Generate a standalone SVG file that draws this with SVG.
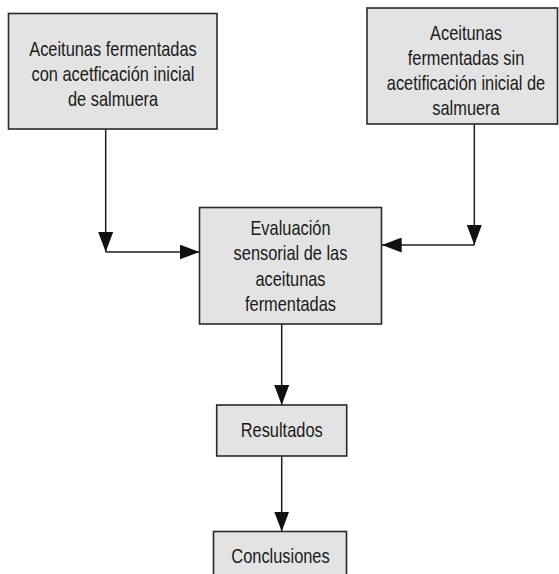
<svg xmlns="http://www.w3.org/2000/svg" width="559" height="574" viewBox="0 0 559 574">
<style>
.box{fill:#e3e3e3;stroke:#2a2a2a;stroke-width:1.6}
.lbl{font-family:"Liberation Sans",Arial,sans-serif;font-size:20px;fill:#1a1a1a;text-anchor:middle}
.conn{fill:none;stroke:#1e1e1e;stroke-width:1.5}
</style>
<defs>
<marker id="arr" viewBox="0 0 20 15" refX="20" refY="7.5" markerWidth="20" markerHeight="15" markerUnits="userSpaceOnUse" orient="auto">
<path d="M0,0 L20,7.5 L0,15 Z" fill="#111"/>
</marker>
</defs>
<rect width="559" height="574" fill="#ffffff"/>
<g id="connectors">
<path class="conn" d="M105.7,129 V252" marker-end="url(#arr)"/>
<path class="conn" d="M105.7,252 H199.5" marker-end="url(#arr)"/>
<path class="conn" d="M474.3,124 V245" marker-end="url(#arr)"/>
<path class="conn" d="M474.3,245 H381.7" marker-end="url(#arr)"/>
<path class="conn" d="M281.7,324 V405" marker-end="url(#arr)"/>
<path class="conn" d="M281.7,456 V531.5" marker-end="url(#arr)"/>
</g>
<g id="node1">
<rect class="box" x="8.5" y="13.5" width="208.5" height="115.5"/>
<g transform="translate(113,0) scale(0.82,1)">
<text class="lbl" x="0" y="56.5">Aceitunas fermentadas</text>
<text class="lbl" x="0" y="81.5">con acetficación inicial</text>
<text class="lbl" x="0" y="106.5">de salmuera</text>
</g>
</g>
<g id="node2">
<rect class="box" x="367" y="8" width="190.5" height="116"/>
<g transform="translate(466,0) scale(0.82,1)">
<text class="lbl" x="0" y="40.5">Aceitunas</text>
<text class="lbl" x="0" y="65.5">fermentadas sin</text>
<text class="lbl" x="0" y="90.5">acetificación inicial de</text>
<text class="lbl" x="0" y="115.5">salmuera</text>
</g>
</g>
<g id="node3">
<rect class="box" x="199.5" y="207.5" width="182" height="116.5"/>
<g transform="translate(290.5,0) scale(0.82,1)">
<text class="lbl" x="0" y="235">Evaluación</text>
<text class="lbl" x="0" y="260.5">sensorial de las</text>
<text class="lbl" x="0" y="286">aceitunas</text>
<text class="lbl" x="0" y="311.5">fermentadas</text>
</g>
</g>
<g id="node4">
<rect class="box" x="216.7" y="405" width="130" height="51"/>
<g transform="translate(281.7,0) scale(0.82,1)">
<text class="lbl" x="0" y="437">Resultados</text>
</g>
</g>
<g id="node5">
<rect class="box" x="213.5" y="531.5" width="133" height="50"/>
<g transform="translate(280.5,0) scale(0.82,1)">
<text class="lbl" x="0" y="563.3">Conclusiones</text>
</g>
</g>
</svg>
